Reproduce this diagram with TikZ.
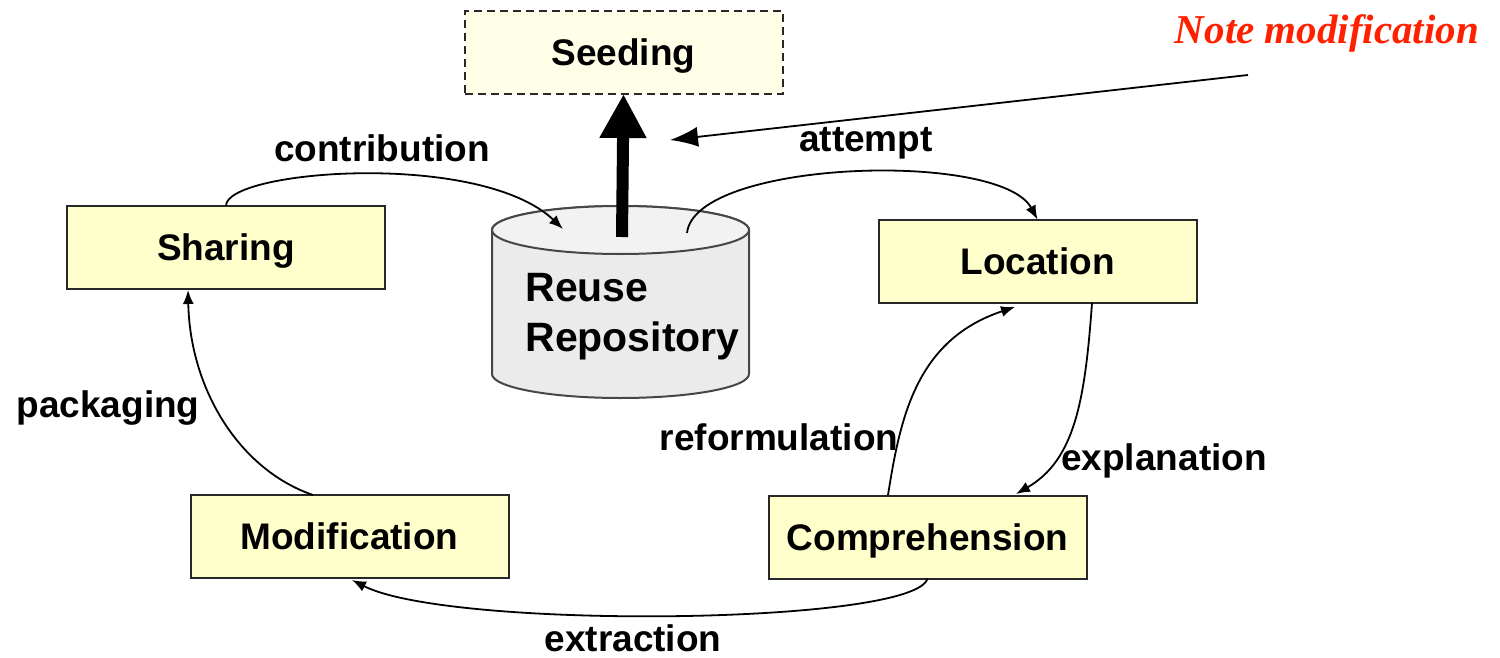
\documentclass[tikz,border=0pt]{standalone}
\usepackage{fontspec}
\setmainfont{Liberation Sans}
\newfontfamily\notefont{Liberation Serif}
\usetikzlibrary{arrows.meta}
\definecolor{boxfill}{RGB}{255,255,204}
\definecolor{seedfill}{RGB}{255,255,232}
\definecolor{boxline}{RGB}{40,40,40}
\definecolor{cylfill}{RGB}{235,235,235}
\definecolor{cyltop}{RGB}{242,242,242}
\definecolor{cylline}{RGB}{70,70,70}
\definecolor{notered}{RGB}{255,32,0}
\tikzset{
  procbox/.style={draw=boxline, fill=boxfill, line width=1pt, inner sep=0pt, outer sep=0pt,
    minimum width=159pt, minimum height=41.5pt, text height=13.3pt, text depth=0pt,
    font=\fontsize{18.5}{22}\selectfont\bfseries},
  seedbox/.style={procbox, fill=seedfill, dashed, dash pattern=on 4pt off 2.5pt},
  lbl/.style={font=\fontsize{18.5}{22}\selectfont\bfseries, inner sep=0pt},
  flow/.style={line width=0.9pt, -{Latex[length=7pt,width=5.5pt]}},
}
\begin{document}
\begin{tikzpicture}[x=0.5pt,y=-0.5pt]
\useasboundingbox (0,0) rectangle (1500,658);
% boxes
\node[seedbox] (seed) at (623.5,52.5) {Seeding};
\node[procbox] (share) at (226,247.5) {Sharing};
\node[procbox] (loc) at (1037.5,261) {Location};
\node[procbox] (mod) at (349.5,536.5) {Modification};
\node[procbox] (comp) at (927.5,537) {Comprehension};
% cylinder
\path[fill=cylfill, draw=cylline, line width=1pt]
  (492,230) -- (492,374) arc[start angle=180, end angle=0, x radius=128.5, y radius=24]
  -- (749,230) arc[start angle=0, end angle=-180, x radius=128.5, y radius=24] -- cycle;
\path[fill=cyltop, draw=cylline, line width=1pt] (620.5,230) ellipse[x radius=128.5, y radius=24];
\node[inner sep=0pt, outer sep=0pt, minimum width=128.5pt, minimum height=96pt] (repo) at (620.5,302) {};
\node[anchor=west, align=left, inner sep=0pt, font=\fontsize{20.5}{25}\selectfont\bfseries] (repotext) at (525,317) {Reuse\\Repository};
\coordinate (cin) at (563,229);
\coordinate (cout) at (687,233);
\coordinate (cup) at (622,237);
% thick arrow
\draw[line width=6pt, -{Triangle[length=22pt,width=22pt]}] (cup) -- (seed.south);
% note
\node[font=\fontsize{20.5}{25}\selectfont\notefont\bfseries\itshape, text=notered, inner sep=0pt] (note) at (1327,33) {Note modification};
\coordinate (nstart) at (1248,75);
\coordinate (nend) at (670,140);
\draw[line width=0.9pt, -{Latex[length=14pt,width=10pt]}] (nstart) -- (nend);
% flows
\draw[flow] (share.north) .. controls (225,170) and (480,150) .. (cin);
\node[lbl] (lcontrib) at (382,148) {contribution};
\draw[flow] (cout) .. controls (695,160) and (1000,150) .. (loc.north);
\node[lbl] (lattempt) at (866,143) {attempt};
\draw[flow] (1092,303) .. controls (1085,400) and (1075,460) .. (1016,494);
\node[lbl] (lexpl) at (1164,461) {explanation};
\draw[flow] (888,495) .. controls (900,420) and (915,340) .. (1015,307);
\node[lbl] (lreform) at (779,437) {reformulation};
\draw[flow] (comp.south) .. controls (915,625) and (450,630) .. (352,580);
\node[lbl] (lextr) at (633,638) {extraction};
\draw[flow] (313,495) .. controls (240,470) and (190,390) .. (188,290);
\node[lbl] (lpack) at (108,408) {packaging};
\end{tikzpicture}
\end{document}
